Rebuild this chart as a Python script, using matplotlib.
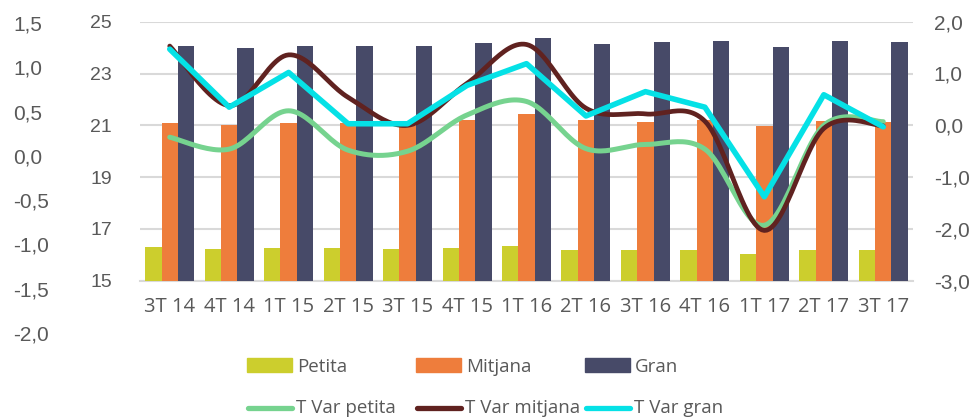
import numpy as np
import matplotlib
matplotlib.use("Agg")
import matplotlib.pyplot as plt
from matplotlib.lines import Line2D
from matplotlib.patches import Rectangle

# ---------------- data ----------------
categories = ["3T 14", "4T 14", "1T 15", "2T 15", "3T 15", "4T 15", "1T 16",
              "2T 16", "3T 16", "4T 16", "1T 17", "2T 17", "3T 17"]
petita = [16.31, 16.23, 16.27, 16.27, 16.23, 16.27, 16.35, 16.19, 16.17, 16.19, 16.03, 16.17, 16.19]
mitjana = [21.08, 21.03, 21.08, 21.08, 20.96, 21.19, 21.42, 21.19, 21.14, 21.19, 20.97, 21.17, 21.14]
gran = [24.05, 24.00, 24.08, 24.08, 24.06, 24.17, 24.36, 24.13, 24.21, 24.24, 24.03, 24.27, 24.21]
tvar_petita = [-0.23, -0.46, 0.28, -0.48, -0.50, 0.20, 0.46, -0.45, -0.37, -0.46, -1.93, 0.00, 0.07]
tvar_mitjana = [1.53, 0.38, 1.36, 0.54, 0.00, 0.81, 1.56, 0.33, 0.22, 0.08, -2.03, -0.06, -0.01]
tvar_gran = [1.47, 0.35, 1.02, 0.03, 0.03, 0.77, 1.19, 0.18, 0.65, 0.35, -1.38, 0.59, -0.03]

bar_ticks = [15, 17, 19, 21, 23, 25]
right_ticks = [-3.0, -2.0, -1.0, 0.0, 1.0, 2.0]
far_ticks = [-2.0, -1.5, -1.0, -0.5, 0.0, 0.5, 1.0, 1.5]

bar_names = ["Petita", "Mitjana", "Gran"]
line_names = ["T Var petita", "T Var mitjana", "T Var gran"]

# ---------------- style ----------------
C_PET = "#CCCE2D"
C_MIT = "#EE7D3C"
C_GRAN = "#474A68"
C_LPET = "#76D38F"
C_LMIT = "#602220"
C_LGRAN = "#05E1E6"
TXT = "#595959"
GRID = "#D9D9D9"

W, H = 978, 418
fig = plt.figure(figsize=(W / 100, H / 100), dpi=100)


def fx(px):
    return px / W


def fy(py):
    return 1 - py / H


# main axes (bars)
left_px, right_px, top_px, bot_px = 140, 913, 21.7, 280.7
ax = fig.add_axes([fx(left_px), fy(bot_px), fx(right_px - left_px), (bot_px - top_px) / H])
x = np.arange(len(categories))
bw = 0.275
ax.bar(x - bw, petita, bw, color=C_PET, zorder=2)
ax.bar(x, mitjana, bw, color=C_MIT, zorder=2)
ax.bar(x + bw, gran, bw, color=C_GRAN, zorder=2)
ax.set_ylim(15, 25)
ax.set_xlim(-0.5, len(categories) - 0.5)
ax.set_yticks(bar_ticks)
ax.set_yticklabels([str(t) for t in bar_ticks], fontfamily="Liberation Sans", fontsize=14, color=TXT)
ax.set_xticks(x)
ax.set_xticklabels(categories, fontfamily="Open Sans", fontsize=14.5, color=TXT)
ax.tick_params(axis="y", length=0, pad=20)
ax.tick_params(axis="x", length=0, pad=12)
ax.grid(axis="y", color=GRID, lw=1.5, zorder=0)
ax.set_axisbelow(True)
for s in ["top", "left", "right"]:
    ax.spines[s].set_visible(False)
ax.spines["bottom"].set_color(GRID)
ax.spines["bottom"].set_linewidth(1.5)
ax.spines["bottom"].set_zorder(1)


def smooth(xs, ys, n=24):
    pts = np.column_stack([xs, ys]).astype(float)
    out = []
    m = len(pts)
    for i in range(m - 1):
        p0 = pts[max(i - 1, 0)]
        p1 = pts[i]
        p2 = pts[i + 1]
        p3 = pts[min(i + 2, m - 1)]
        c1 = p1 + (p2 - p0) / 6.0
        c2 = p2 - (p3 - p1) / 6.0
        t = np.linspace(0, 1, n, endpoint=(i == m - 2))[:, None]
        seg = ((1 - t) ** 3) * p1 + 3 * ((1 - t) ** 2) * t * c1 + 3 * (1 - t) * t ** 2 * c2 + t ** 3 * p2
        out.append(seg)
    out = np.vstack(out)
    return out[:, 0], out[:, 1]


# right axis (lines)
axr = ax.twinx()
sx, sy = smooth(x, tvar_petita)
axr.plot(sx, sy, color=C_LPET, lw=3.6, solid_capstyle="round", solid_joinstyle="round")
sx, sy = smooth(x, tvar_mitjana)
axr.plot(sx, sy, color=C_LMIT, lw=3.4, solid_capstyle="round", solid_joinstyle="round")
axr.plot(x, tvar_gran, color=C_LGRAN, lw=4.0, solid_capstyle="round", solid_joinstyle="round")
axr.set_ylim(-3, 2)
axr.set_yticks(right_ticks)
axr.set_yticklabels([f"{t:.1f}".replace(".", ",") for t in right_ticks],
                    fontfamily="Liberation Sans", fontsize=15, color=TXT)
axr.tick_params(axis="y", length=0, pad=15)
for s in axr.spines.values():
    s.set_visible(False)

# far-left extra axis (no data)
axf = fig.add_axes([fx(13), fy(333), 0.0005, (333 - 23) / H])
axf.set_ylim(-2.0, 1.5)
axf.set_yticks(far_ticks)
axf.yaxis.tick_right()
axf.set_yticklabels([f"{t:.1f}".replace(".", ",") for t in far_ticks],
                    fontfamily="Liberation Sans", fontsize=15, color=TXT)
axf.tick_params(axis="y", length=0, pad=0)
axf.set_xticks([])
for s in axf.spines.values():
    s.set_visible(False)
axf.patch.set_visible(False)

# legend drawn in figure pixel coords
col_x = [247, 416, 585]
bar_cols = [C_PET, C_MIT, C_GRAN]
line_cols = [C_LPET, C_LMIT, C_LGRAN]
for i in range(3):
    x0 = col_x[i]
    fig.patches.append(Rectangle((fx(x0), fy(372)), fx(45), 14 / H, transform=fig.transFigure,
                                 color=bar_cols[i]))
    fig.text(fx(x0 + 50), fy(371.5), bar_names[i], fontfamily="Open Sans", fontsize=13.5,
             color=TXT, va="baseline", ha="left")
    fig.lines.append(Line2D([fx(x0 + 1), fx(x0 + 45)], [fy(407.5), fy(407.5)], transform=fig.transFigure,
                            color=line_cols[i], lw=3.8, solid_capstyle="round"))
    fig.text(fx(x0 + 49), fy(413), line_names[i], fontfamily="Open Sans", fontsize=13.5,
             color=TXT, va="baseline", ha="left")

fig.savefig("out.png", dpi=100)
